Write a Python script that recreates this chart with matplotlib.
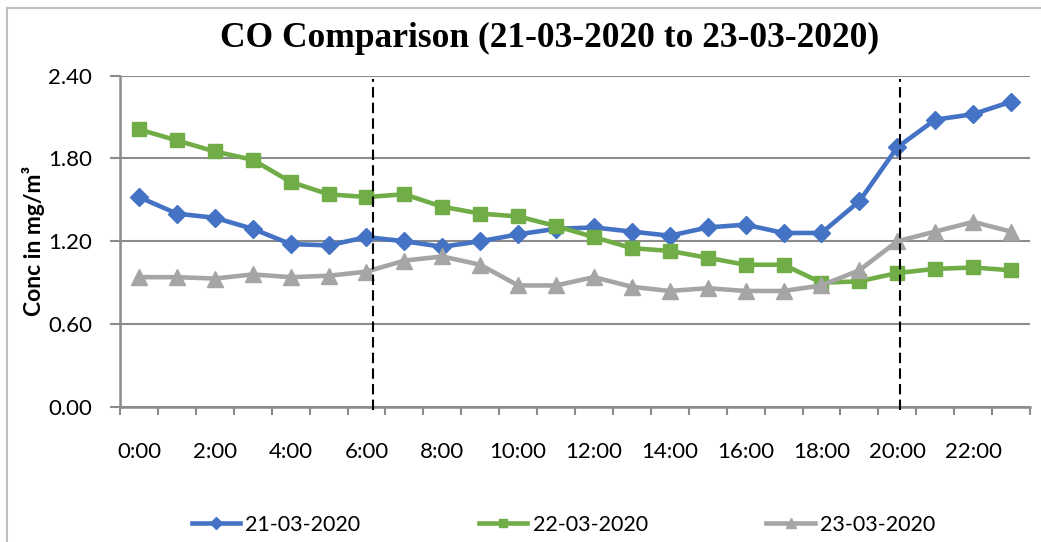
import matplotlib.pyplot as plt
from matplotlib.patches import Rectangle

hours = list(range(24))
hour_labels = [f"{h}:00" for h in range(0, 24, 2)]

co_21 = [1.52, 1.40, 1.37, 1.29, 1.18, 1.17, 1.23, 1.20, 1.16, 1.20, 1.25, 1.29,
         1.30, 1.27, 1.24, 1.30, 1.32, 1.26, 1.26, 1.49, 1.88, 2.08, 2.12, 2.21]
co_22 = [2.01, 1.93, 1.85, 1.79, 1.63, 1.54, 1.52, 1.54, 1.45, 1.40, 1.38, 1.31,
         1.23, 1.15, 1.13, 1.08, 1.03, 1.03, 0.90, 0.91, 0.97, 1.00, 1.01, 0.99]
co_23 = [0.94, 0.94, 0.93, 0.96, 0.94, 0.95, 0.98, 1.06, 1.09, 1.03, 0.88, 0.88,
         0.94, 0.87, 0.84, 0.86, 0.84, 0.84, 0.88, 0.99, 1.20, 1.27, 1.34, 1.27]
series_names = ["21-03-2020", "22-03-2020", "23-03-2020"]
marker_lines = [6.16, 20.07]

W, H = 1041, 542
fig = plt.figure(figsize=(W / 100, H / 100), dpi=100)
ax = fig.add_axes([120 / W, 1 - 407 / H, 910 / W, 331.5 / H])

grid_col = "#8C8C8C"
tick_font = dict(family=["Lato", "DejaVu Sans"], size=16)

ax.plot(hours, co_21, color="#4472C4", lw=3.3, marker="D", ms=9.5, label=series_names[0], zorder=3)
ax.plot(hours, co_22, color="#70AD47", lw=3.3, marker="s", ms=10, label=series_names[1], zorder=4)
ax.plot(hours, co_23, color="#A5A5A5", lw=3.3, marker="^", ms=11, label=series_names[2], zorder=5)

for xv in marker_lines:
    ax.axvline(xv, ymin=-0.009, ymax=0.99, color="black", lw=1.5,
               linestyle=(0, (5, 2.5)), clip_on=False, zorder=6)

ax.set_xlim(-0.5, 23.5)
ax.set_ylim(0, 2.4)
ax.set_yticks([0, 0.6, 1.2, 1.8, 2.4])
ax.set_yticklabels(["0.00", "0.60", "1.20", "1.80", "2.40"], fontdict=tick_font)
ax.set_xticks(range(0, 24, 2))
ax.set_xticklabels(hour_labels, fontdict=tick_font)
ax.set_xticks([x - 0.5 for x in range(25)], minor=True)
ax.tick_params(axis="x", which="major", length=0, pad=25)
ax.tick_params(axis="x", which="minor", length=6, width=1.5, color=grid_col)
ax.tick_params(axis="y", length=7, width=1.5, color=grid_col, pad=13)

ax.grid(axis="y", color=grid_col, lw=1.5)
ax.set_axisbelow(True)
for side in ["top", "right"]:
    ax.spines[side].set_visible(False)
for side in ["left", "bottom"]:
    ax.spines[side].set_color(grid_col)
    ax.spines[side].set_linewidth(1.8)

ax.set_ylabel("Conc in mg/m³", fontsize=16.5, fontweight="bold",
              family=["Lato", "DejaVu Sans"], labelpad=2)

fig.text(549.5 / W, 1 - 38 / H, "CO Comparison (21-03-2020 to 23-03-2020)",
         ha="center", va="center", fontsize=25.5, fontweight="bold",
         family=["Liberation Serif", "DejaVu Serif"])

leg = fig.legend(loc="center", bbox_to_anchor=(563.5 / W, 17 / H), ncol=3,
                 frameon=False, handlelength=2.25, handletextpad=0.25,
                 columnspacing=5.5, markerscale=0.6,
                 prop=dict(family=["Lato", "DejaVu Sans"], size=15.5))

fig.add_artist(Rectangle((7 / W, -0.1), 1.2, 1 - 8 / H + 0.1, transform=fig.transFigure,
                         fill=False, edgecolor="#BFBFBF", lw=1.5))

fig.savefig("out.png", dpi=100)
